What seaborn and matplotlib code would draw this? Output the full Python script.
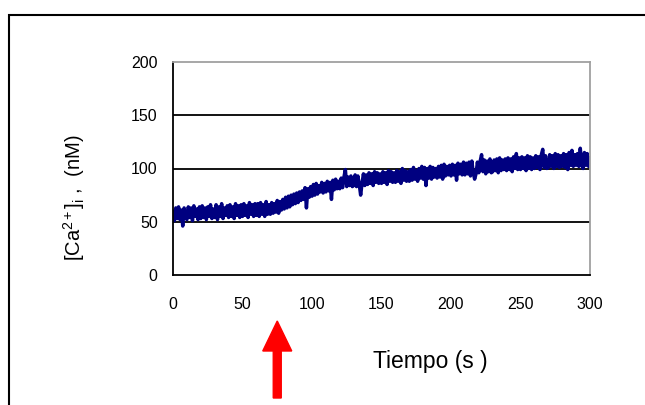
import numpy as np
import matplotlib
matplotlib.use("Agg")
import matplotlib.pyplot as plt
import seaborn as sns
from matplotlib.patches import Rectangle, FancyArrow

# ─── DATA (1 value per second) ─────────────────────────────────────────────────
tiempo = list(range(0, 301))
calcio = [
    60, 51, 63, 53, 64, 52, 61, 46, 63, 54,
    52, 64, 54, 63, 51, 65, 55, 62, 52, 64,
    53, 65, 54, 63, 52, 64, 55, 66, 53, 62,
    54, 66, 52, 64, 55, 67, 53, 63, 56, 65,
    54, 66, 55, 64, 53, 67, 56, 65, 54, 66,
    55, 67, 56, 65, 54, 68, 57, 66, 55, 67,
    56, 67, 55, 68, 57, 66, 55, 69, 57, 66,
    57, 68, 58, 67, 59, 70, 58, 69, 61, 71,
    62, 73, 63, 74, 64, 75, 66, 76, 67, 77,
    68, 78, 70, 79, 71, 82, 63, 81, 73, 83,
    74, 85, 75, 86, 76, 84, 78, 87, 77, 86,
    78, 88, 79, 87, 71, 89, 80, 90, 81, 88,
    81, 91, 82, 92, 99, 83, 92, 84, 93, 83,
    84, 94, 83, 93, 85, 75, 86, 95, 84, 94,
    85, 96, 86, 95, 84, 97, 87, 96, 86, 95,
    86, 97, 87, 96, 85, 98, 88, 97, 87, 96,
    87, 98, 88, 97, 86, 100, 89, 98, 88, 97,
    88, 99, 89, 101, 90, 98, 88, 100, 91, 102,
    90, 101, 84, 100, 91, 102, 90, 101, 92, 100,
    91, 102, 92, 103, 90, 104, 93, 102, 94, 103,
    93, 104, 94, 103, 89, 105, 95, 104, 94, 106,
    94, 105, 95, 106, 93, 107, 96, 90, 95, 106,
    96, 107, 113, 97, 108, 95, 107, 97, 109, 96,
    97, 108, 98, 109, 96, 110, 98, 108, 99, 109,
    98, 110, 99, 109, 97, 111, 100, 114, 99, 110,
    99, 111, 100, 110, 98, 112, 100, 111, 99, 110,
    100, 112, 101, 111, 99, 113, 118, 101, 112, 100,
    101, 113, 102, 112, 100, 114, 102, 113, 101, 112,
    102, 114, 101, 113, 99, 115, 103, 117, 102, 113,
    103, 114, 102, 119, 104, 100, 115, 103, 114, 102,
    110,
]
x_ticks = [0, 50, 100, 150, 200, 250, 300]
y_ticks = [0, 50, 100, 150, 200]
arrow_time = 75   # stimulus marker, in seconds

# ─── STYLE ─────────────────────────────────────────────────────────────────────
sns.set_style("white")
plt.rcParams["font.family"] = ["Liberation Sans", "DejaVu Sans"]
plt.rcParams["mathtext.fontset"] = "custom"
plt.rcParams["mathtext.rm"] = "Liberation Sans"
plt.rcParams["mathtext.it"] = "Liberation Sans"

W, H = 645, 405
fig = plt.figure(figsize=(W / 100, H / 100), dpi=100)
ax = fig.add_axes([173 / W, 1 - 275 / H, (590 - 173) / W, (275 - 62) / H])

sns.lineplot(x=tiempo, y=calcio, color="#000080", linewidth=2.5, ax=ax)

ax.set_xlim(0, 300)
ax.set_ylim(0, 200)
ax.set_xticks(x_ticks)
ax.set_yticks(y_ticks)
ax.tick_params(axis="x", direction="out", length=6, width=1.2, color="black",
               labelsize=11.5, labelcolor="black", pad=10)
ax.tick_params(axis="y", direction="out", length=5, width=1.2, color="black",
               labelsize=11.5, labelcolor="black", pad=6)

# black horizontal gridlines
for v in y_ticks[1:-1]:
    ax.axhline(v, color="black", linewidth=1.3, zorder=0)

for side in ["left", "bottom"]:
    ax.spines[side].set_color("black")
    ax.spines[side].set_linewidth(1.3)
for side in ["top", "right"]:
    ax.spines[side].set_color("#a0a0a0")
    ax.spines[side].set_linewidth(1.3)

ax.set_ylabel(r"[Ca$^{2+}$]$_i$ ,  (nM)", fontsize=14.5, color="black")
ax.yaxis.set_label_coords((87 - 173) / (590 - 173), (275 - 198) / (275 - 62))
ax.set_xlabel("Tiempo (s )", fontsize=16.5, color="black")
ax.xaxis.set_label_coords((430 - 173) / (590 - 173), (275 - 350) / (275 - 62))

# red arrow under the x axis
x_frac = (173 + arrow_time / 300 * (590 - 173)) / W
fig.patches.append(FancyArrow(
    x_frac, 1 - 398 / H, 0, (398 - 321) / H,
    width=8 / W, head_width=29 / W, head_length=30 / H,
    length_includes_head=True, color="red", transform=fig.transFigure,
    figure=fig))

# frame of the original picture
fig.patches.append(Rectangle((9 / W, -0.1), 1.2, (H - 15) / H + 0.1,
                             fill=False, edgecolor="black", linewidth=1.5,
                             transform=fig.transFigure, figure=fig))

fig.savefig("out.png", dpi=100)
